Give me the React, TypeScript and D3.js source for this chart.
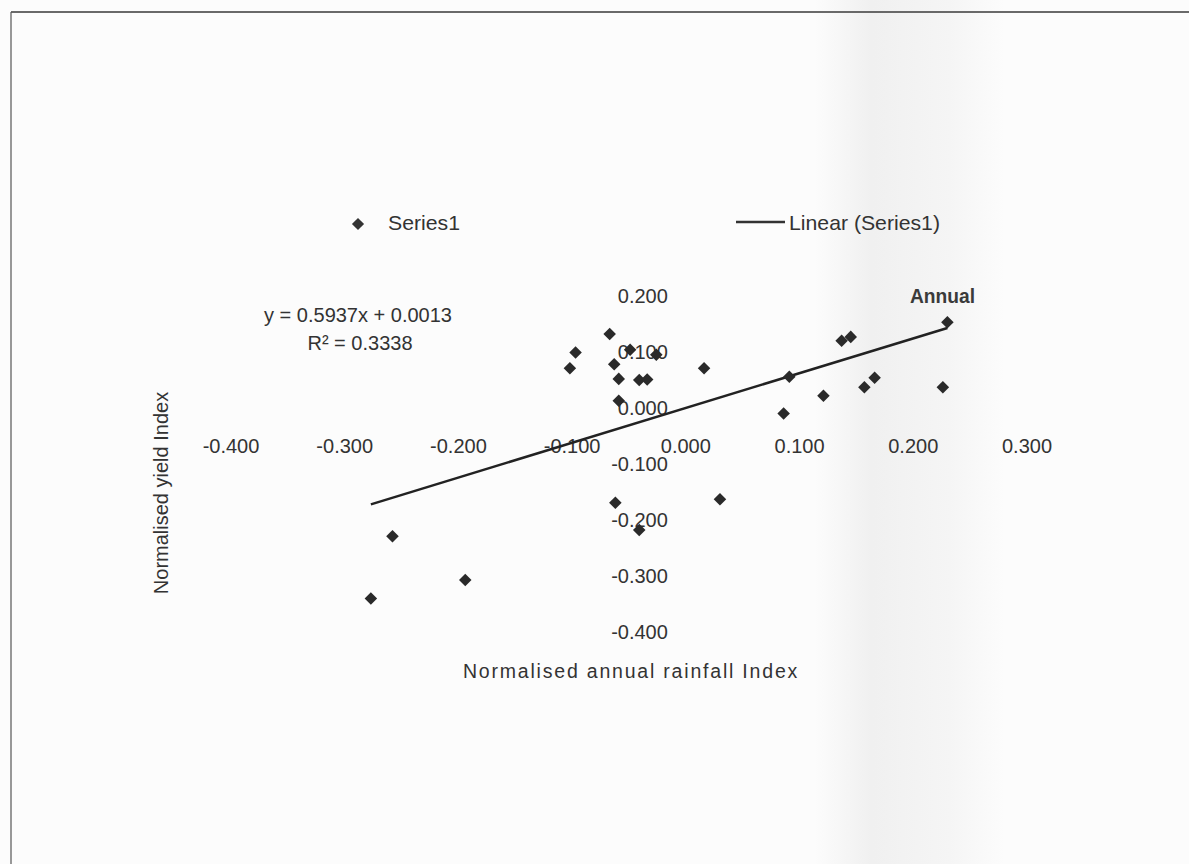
import React from 'react';
import * as d3 from 'd3';

// normalised annual rainfall index (x) vs normalised yield index (y)
const rainfall = [
  -0.067, -0.097, -0.102, -0.049, -0.026, -0.063, -0.059, -0.041, -0.034, -0.059,
  0.016, 0.230, 0.137, 0.145, 0.091, 0.086, 0.121, 0.157, 0.166, 0.226,
  -0.258, -0.277, -0.194, -0.062, -0.041, 0.030,
];
const yieldIdx = [
  0.132, 0.099, 0.071, 0.104, 0.095, 0.078, 0.052, 0.050, 0.051, 0.013,
  0.071, 0.153, 0.120, 0.127, 0.056, -0.010, 0.022, 0.037, 0.054, 0.037,
  -0.229, -0.340, -0.307, -0.169, -0.218, -0.163,
];

const xTicks = [-0.4, -0.3, -0.2, -0.1, 0, 0.1, 0.2, 0.3];
const yTicks = [-0.4, -0.3, -0.2, -0.1, 0, 0.1, 0.2];

// trendline label as printed on the chart
const trendSlope = 0.5937;
const trendIntercept = 0.0013;
const rSquared = 0.3338;

const W = 1189;
const H = 864;
const FONT = '"Liberation Sans", Arial, sans-serif';
const INK = '#333';

const fmt = d3.formatLocale({
  decimal: '.',
  thousands: ',',
  grouping: [3],
  currency: ['', ''],
  minus: '-',
}).format('.3f');

// least squares fit of the points, used to draw Linear (Series1)
function fitLine(xs: number[], ys: number[]) {
  const mx = d3.mean(xs) as number;
  const my = d3.mean(ys) as number;
  let sxy = 0;
  let sxx = 0;
  xs.forEach((v, i) => {
    sxy += (v - mx) * (ys[i] - my);
    sxx += (v - mx) * (v - mx);
  });
  const b = sxy / sxx;
  return { b, a: my - b * mx };
}

const App: React.FC = () => {
  const x = d3.scaleLinear().domain([-0.4, 0.3]).range([231, 1027]);
  const y = d3.scaleLinear().domain([-0.4, 0.2]).range([632, 296]);

  const points = rainfall.map((r, i) => ({ x: r, y: yieldIdx[i] }));
  const diamond = d3.symbol().type(d3.symbolDiamond2).size(100)();
  const legendDiamond = d3.symbol().type(d3.symbolDiamond2).size(95)();

  const fit = fitLine(rainfall, yieldIdx);
  const [xMin, xMax] = d3.extent(rainfall) as [number, number];
  const trend = d3.line<number>()
    .x((d) => x(d))
    .y((d) => y(fit.b * d + fit.a))([xMin, xMax]);

  const x0 = x(0);
  const y0 = y(0);

  return (
    <svg
      width={W}
      height={H}
      style={{ position: 'absolute', left: 0, top: 0 }}
      fontFamily={FONT}
    >
      <defs>
        <linearGradient id="band" x1="0" x2="1" y1="0" y2="0">
          <stop offset="0" stopColor="#e6e6e6" stopOpacity="0" />
          <stop offset="0.3" stopColor="#e6e6e6" stopOpacity="0.55" />
          <stop offset="0.7" stopColor="#eaeaea" stopOpacity="0.4" />
          <stop offset="1" stopColor="#eaeaea" stopOpacity="0" />
        </linearGradient>
      </defs>
      <rect x={0} y={0} width={W} height={H} fill="#fcfcfc" />
      <rect x={815} y={0} width={190} height={H} fill="url(#band)" />

      {/* frame of the scanned page */}
      <line x1={11} x2={W} y1={12} y2={12} stroke="#3a3a3a" strokeWidth={1.5} />
      <line x1={11} x2={11} y1={12} y2={H} stroke="#555" strokeWidth={1.2} />

      {/* legend */}
      <path d={legendDiamond} transform="translate(358,224)" fill={INK} />
      <text x={388} y={230} fontSize={21} fill={INK} textLength={72} lengthAdjust="spacingAndGlyphs">
        Series1
      </text>
      <line x1={736} x2={785} y1={222} y2={222} stroke={INK} strokeWidth={2.5} />
      <text x={789} y={230} fontSize={21} fill={INK} textLength={151} lengthAdjust="spacingAndGlyphs">
        Linear (Series1)
      </text>

      {/* trendline label */}
      <text x={358} y={322} fontSize={20} fill={INK} textAnchor="middle">
        {`y = ${trendSlope}x + ${trendIntercept}`}
      </text>
      <text x={360} y={350} fontSize={20} fill={INK} textAnchor="middle">
        R² = {rSquared}
      </text>

      {/* x tick labels */}
      {xTicks.map((t) => (
        <text key={`x${t}`} x={x(t)} y={y0 + 45} fontSize={20} fill={INK} textAnchor="middle">
          {fmt(t)}
        </text>
      ))}

      {/* y tick labels */}
      {yTicks.map((t) => (
        <text key={`y${t}`} x={x0 - 18} y={y(t) + 7} fontSize={20} fill={INK} textAnchor="end">
          {fmt(t)}
        </text>
      ))}

      {/* trendline */}
      <path d={trend ?? ''} stroke="#222" strokeWidth={2.5} fill="none" />

      {/* points */}
      {points.map((p, i) => (
        <path key={i} d={diamond} transform={`translate(${x(p.x)},${y(p.y)})`} fill="#2a2a2a" />
      ))}

      <text x={910} y={303} fontSize={21} fontWeight={600} fill="#3a3a3a" textLength={65} lengthAdjust="spacingAndGlyphs">
        Annual
      </text>

      {/* axis titles */}
      <text x={631} y={678} fontSize={19.5} fill={INK} letterSpacing={1.8} textAnchor="middle">
        Normalised annual rainfall Index
      </text>
      <text
        transform="translate(168,493) rotate(-90)"
        fontSize={20}
        fill={INK}
        textAnchor="middle"
      >
        Normalised yield Index
      </text>
    </svg>
  );
};

export default App;
